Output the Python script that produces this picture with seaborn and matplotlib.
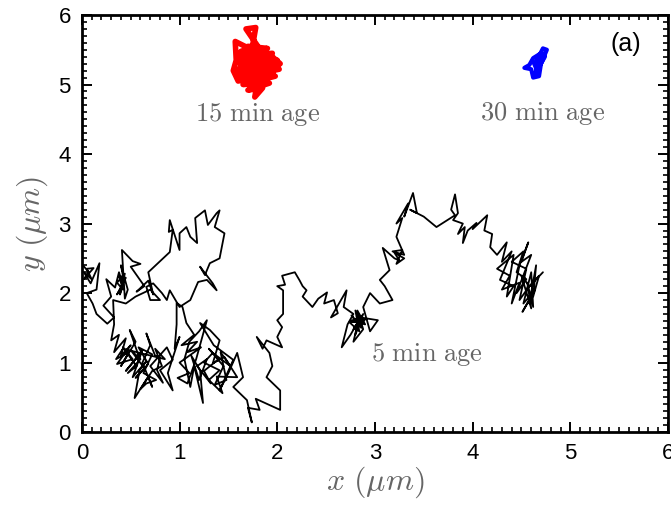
import matplotlib
matplotlib.use("Agg")
import matplotlib.pyplot as plt
import seaborn as sns
import pandas as pd
from matplotlib.ticker import MultipleLocator

# ---- data: particle trajectories (x, y in micrometres) ----
# 5 min age particle, traced in pieces along its path
seg_left_start = [(0.00, 2.42), (0.07, 2.30), (0.02, 2.20), (0.12, 2.36), (0.05, 2.35), (0.10, 2.20),
                  (0.02, 2.30), (0.09, 2.14), (0.18, 2.43), (0.15, 2.05), (0.05, 2.00), (0.11, 1.85),
                  (0.15, 1.70), (0.26, 1.56), (0.33, 1.65), (0.22, 1.82), (0.30, 1.95), (0.25, 2.20),
                  (0.34, 2.08), (0.38, 2.30), (0.42, 2.12), (0.36, 1.98), (0.45, 2.22), (0.38, 2.25),
                  (0.42, 2.05), (0.36, 2.15), (0.44, 2.28), (0.39, 1.98), (0.43, 2.18), (0.40, 2.40),
                  (0.47, 2.05), (0.44, 1.92), (0.41, 2.62), (0.52, 2.46), (0.60, 2.42), (0.50, 2.38),
                  (0.58, 2.22), (0.64, 2.10), (0.56, 2.02), (0.68, 2.18), (0.73, 1.98), (0.68, 2.30)]
seg_upper_loop = [(0.90, 2.59), (0.93, 2.91), (0.89, 2.88), (0.90, 3.05), (1.00, 2.62), (1.00, 2.86),
                  (1.07, 2.95), (1.11, 2.81), (1.18, 2.72), (1.16, 3.08), (1.26, 3.19), (1.29, 2.98),
                  (1.38, 3.15), (1.41, 3.19), (1.36, 2.95), (1.46, 2.86), (1.41, 2.50), (1.31, 2.43),
                  (1.26, 2.26), (1.21, 2.38), (1.34, 2.14), (1.38, 2.04), (1.28, 2.19), (1.19, 2.16),
                  (1.11, 1.90), (1.00, 1.80), (0.90, 2.04), (0.87, 1.90), (0.82, 2.00), (0.73, 2.14),
                  (0.66, 2.09), (0.70, 1.90), (0.80, 1.90), (0.70, 2.05), (0.55, 1.95), (0.45, 1.85),
                  (0.32, 1.90), (0.33, 1.55), (0.30, 1.32)]
seg_bottom_left = [(0.38, 1.40), (0.33, 1.15), (0.45, 1.35), (0.40, 1.10), (0.50, 1.25), (0.36, 0.98),
                   (0.52, 1.05), (0.42, 1.22), (0.56, 0.95), (0.47, 0.85), (0.60, 1.05), (0.50, 1.18),
                   (0.64, 0.92), (0.55, 0.78), (0.68, 0.98), (0.58, 1.22), (0.72, 1.12), (0.63, 0.85),
                   (0.76, 0.75), (0.66, 0.70), (0.60, 0.62), (0.72, 0.88), (0.82, 0.95), (0.75, 1.20),
                   (0.85, 1.05), (0.42, 1.20), (0.35, 1.05), (0.48, 1.15), (0.40, 0.95), (0.55, 1.30),
                   (0.49, 1.47), (0.58, 1.10), (0.45, 0.88), (0.62, 1.18), (0.52, 0.79), (0.66, 1.02),
                   (0.59, 0.89), (0.54, 0.49), (0.68, 0.80), (0.72, 0.65), (0.62, 1.00), (0.70, 1.25),
                   (0.66, 1.42), (0.75, 1.10), (0.80, 1.08), (0.77, 0.89), (0.83, 0.71), (0.70, 0.95),
                   (0.87, 1.22), (0.93, 1.04), (0.80, 0.89), (0.93, 0.60), (0.88, 0.85), (1.00, 1.37),
                   (0.95, 1.20), (0.97, 1.55), (0.97, 1.86), (1.03, 1.80), (1.07, 1.57), (1.15, 1.40),
                   (1.02, 1.25), (1.18, 1.30), (1.08, 1.15), (1.22, 1.22), (1.00, 1.00), (1.10, 0.85),
                   (0.98, 0.78), (1.08, 0.70), (1.17, 1.05), (1.28, 1.61),
                   (1.20, 1.45), (1.10, 1.30), (1.05, 1.05), (1.11, 0.65), (1.15, 0.95), (1.24, 0.42),
                   (1.21, 0.89), (1.12, 1.10), (1.20, 0.75), (1.28, 1.05), (1.18, 0.95), (1.32, 0.70),
                   (1.25, 0.88), (1.40, 1.05), (1.30, 1.20), (1.45, 0.95), (1.36, 0.68), (1.48, 0.75),
                   (1.42, 1.15), (1.52, 0.95), (1.34, 1.14), (1.25, 1.00), (1.41, 0.89), (1.30, 0.75),
                   (1.44, 0.56), (1.38, 0.80), (1.59, 0.79), (1.46, 1.08), (1.34, 0.99), (1.41, 1.32),
                   (1.31, 1.47), (1.21, 1.57), (1.35, 1.25), (1.55, 1.04), (1.41, 0.60), (1.50, 0.85),
                   (1.59, 1.14), (1.65, 0.79), (1.55, 0.65), (1.69, 0.46), (1.74, 0.14), (1.70, 0.35),
                   (1.82, 0.32), (1.78, 0.48), (2.03, 0.32), (2.03, 0.60), (1.89, 0.79), (1.95, 0.95),
                   (1.92, 1.14), (1.79, 1.37), (1.85, 1.20), (1.89, 1.32), (2.05, 1.22), (2.00, 1.37),
                   (2.05, 1.51), (2.00, 1.61), (2.06, 1.70)]
seg_middle = [(2.06, 2.04), (2.00, 2.10), (2.08, 2.12), (2.05, 2.25), (2.18, 2.30), (2.23, 2.18),
              (2.26, 2.10), (2.30, 2.04), (2.26, 1.95), (2.36, 1.80), (2.42, 1.92), (2.51, 2.01),
              (2.48, 1.85), (2.58, 1.90), (2.62, 1.71), (2.55, 1.65), (2.71, 2.04), (2.68, 1.80),
              (2.78, 1.70), (2.72, 1.55), (2.66, 1.22), (2.75, 1.40), (2.82, 1.57), (2.76, 1.68),
              (2.86, 1.50), (2.80, 1.75), (2.84, 1.45), (2.74, 1.58), (2.90, 1.62), (2.78, 1.48),
              (2.88, 1.70), (2.80, 1.40), (2.83, 1.60), (2.78, 1.30), (2.88, 1.48), (2.82, 1.75),
              (2.90, 1.55), (2.75, 1.60), (2.85, 1.65), (3.03, 1.61), (2.95, 1.45), (2.88, 1.80),
              (2.95, 2.00), (3.05, 1.85), (3.18, 1.90), (3.10, 2.10), (3.05, 2.19), (3.15, 2.33),
              (3.08, 2.65), (3.20, 2.50), (3.25, 2.47), (3.20, 2.58), (3.30, 2.50), (3.22, 2.42),
              (3.28, 2.62), (3.18, 2.60), (3.30, 2.55), (3.22, 2.81), (3.28, 3.08), (3.22, 3.00),
              (3.34, 3.29), (3.30, 3.10), (3.39, 3.44), (3.43, 3.15), (3.36, 3.20), (3.50, 3.10)]
seg_right = [(3.63, 2.95), (3.82, 3.12), (3.78, 3.20), (3.82, 3.42), (3.85, 3.15), (3.80, 3.05),
             (3.90, 3.00), (3.85, 2.85), (3.92, 2.95), (3.90, 2.72), (3.95, 2.90), (4.04, 3.01),
             (4.00, 2.92), (4.15, 3.12), (4.12, 2.90), (4.20, 2.85), (4.18, 2.66), (4.25, 2.55),
             (4.35, 2.73), (4.30, 2.45), (4.40, 2.60), (4.28, 2.19), (4.42, 2.10), (4.35, 1.95),
             (4.42, 2.55), (4.25, 2.35), (4.38, 2.25), (4.30, 2.05), (4.48, 2.15), (4.40, 1.85),
             (4.48, 2.40), (4.57, 2.73), (4.50, 2.45), (4.60, 2.55), (4.45, 2.00), (4.55, 2.20),
             (4.45, 2.30), (4.52, 2.60), (4.40, 2.45), (4.55, 2.35), (4.48, 1.90), (4.58, 2.10),
             (4.50, 2.25), (4.60, 1.78), (4.56, 2.15), (4.62, 1.80), (4.60, 2.30), (4.52, 1.85),
             (4.64, 2.05), (4.51, 1.73), (4.62, 2.00), (4.58, 1.85), (4.65, 2.40), (4.62, 1.95),
             (4.68, 2.25), (4.55, 2.05), (4.72, 2.30)]

# 15 min age particle
x_15min = [1.78, 1.60, 1.95, 1.62, 2.00, 1.58, 2.02, 1.60, 1.98, 1.65, 1.92, 1.70, 1.85, 1.77,
           1.80, 1.62, 1.97, 1.62, 1.90, 1.70, 1.85, 1.68, 1.78, 1.74, 1.57, 1.58, 1.55, 1.60,
           1.75, 1.95, 2.03, 1.88, 1.70, 1.82, 1.72, 1.90, 1.65, 1.85, 1.75, 1.68, 1.88, 1.78,
           1.64, 1.96, 1.66, 1.93, 1.63, 1.80, 1.72, 1.88, 1.69, 1.83, 1.78, 1.62, 1.98, 1.60,
           1.95, 1.66, 1.90, 1.72, 1.84, 1.76]
y_15min = [5.25, 5.40, 5.45, 5.30, 5.35, 5.20, 5.22, 5.10, 5.12, 5.00, 5.02, 4.92, 4.95, 4.82,
           5.05, 5.15, 5.28, 5.45, 5.52, 5.55, 5.45, 5.80, 5.82, 5.50, 5.62, 5.35, 5.20, 5.05,
           5.10, 5.40, 5.30, 5.15, 5.35, 5.30, 5.20, 5.25, 5.25, 5.40, 5.45, 5.08, 5.05, 5.25,
           5.35, 5.18, 5.12, 5.38, 5.48, 5.50, 5.00, 5.30, 5.22, 5.15, 5.30, 5.25, 5.32, 5.12,
           5.18, 5.40, 5.42, 5.05, 5.10, 5.35]

# 30 min age particle
x_30min = [4.64, 4.72, 4.76, 4.70, 4.68, 4.62, 4.60, 4.53, 4.58, 4.62, 4.70, 4.74, 4.66, 4.63,
           4.68, 4.64, 4.70, 4.66]
y_30min = [5.30, 5.52, 5.50, 5.30, 5.12, 5.10, 5.22, 5.24, 5.28, 5.38, 5.45, 5.40, 5.20, 5.30,
           5.35, 5.15, 5.40, 5.25]

labels = ["5 min age", "15 min age", "30 min age"]
label_x = [3.53, 1.80, 4.72]
label_y = [1.12, 4.57, 4.58]

# ---- plotting ----
sns.set_theme(style="ticks")
plt.rcParams["font.family"] = ["Liberation Sans", "DejaVu Sans"]
plt.rcParams["mathtext.fontset"] = "cm"

fig = plt.figure(figsize=(6.71, 5.09), dpi=100)
ax = fig.add_axes([0.122, 0.151, 0.8735, 0.8195])

path5 = seg_left_start + seg_upper_loop + seg_bottom_left + seg_middle + seg_right
df5 = pd.DataFrame(path5, columns=["x", "y"])
df15 = pd.DataFrame({"x": x_15min, "y": y_15min})
df30 = pd.DataFrame({"x": x_30min, "y": y_30min})

sns.lineplot(data=df5, x="x", y="y", sort=False, estimator=None, color="black", lw=1.3, ax=ax)
sns.lineplot(data=df15, x="x", y="y", sort=False, estimator=None, color="#ff0000", lw=4.0, ax=ax)
sns.lineplot(data=df30, x="x", y="y", sort=False, estimator=None, color="#0000ff", lw=3.0, ax=ax)

for t, tx, ty in zip(labels, label_x, label_y):
    ax.text(tx, ty, r"$\mathrm{" + t.replace(" ", r"\ ") + "}$", ha="center", va="center",
            fontsize=19, color="#666666")
ax.text(0.955, 0.93, "(a)", transform=ax.transAxes, ha="right", va="center", fontsize=18,
        color="black")

ax.set_xlim(0, 6)
ax.set_ylim(0, 6)
ax.xaxis.set_major_locator(MultipleLocator(1))
ax.yaxis.set_major_locator(MultipleLocator(1))
ax.xaxis.set_minor_locator(MultipleLocator(0.1))
ax.yaxis.set_minor_locator(MultipleLocator(0.1))
ax.tick_params(which="both", direction="in", top=True, right=True, color="black")
ax.tick_params(which="major", length=7, width=1.4, labelsize=16, pad=8, labelcolor="black")
ax.tick_params(which="minor", length=3.5, width=1.2)
for s in ax.spines.values():
    s.set_visible(True)
    s.set_linewidth(2.0)
    s.set_color("black")

ax.set_xlabel(r"$x\ (\mu m)$", fontsize=23, color="#666666", labelpad=0)
ax.set_ylabel(r"$y\ (\mu m)$", fontsize=23, color="#666666", labelpad=6)

fig.savefig("out.png", dpi=100)
